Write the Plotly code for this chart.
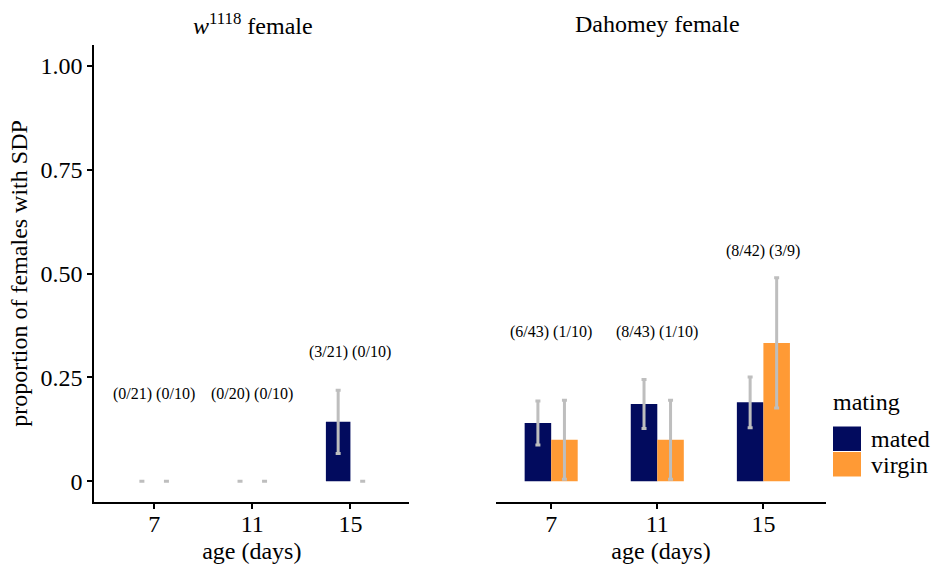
import plotly.graph_objects as go

# ---------------- data ----------------
ages = ["7", "11", "15"]

w_mated_prop = [0.0, 0.0, 0.143]
w_mated_se = [0.0, 0.0, 0.076]
w_virgin_prop = [0.0, 0.0, 0.0]
w_virgin_se = [0.0, 0.0, 0.0]
w_mated_counts = ["0/21", "0/20", "3/21"]
w_virgin_counts = ["0/10", "0/10", "0/10"]
w_label_y = [0.21, 0.21, 0.31]

d_mated_prop = [0.140, 0.186, 0.190]
d_mated_se = [0.053, 0.059, 0.061]
d_virgin_prop = [0.10, 0.10, 0.333]
d_virgin_se = [0.095, 0.095, 0.157]
d_mated_counts = ["6/43", "8/43", "8/42"]
d_virgin_counts = ["1/10", "1/10", "3/9"]
d_label_y = [0.36, 0.36, 0.555]

panel_titles = ["<i>w</i><sup>1118</sup> female", "Dahomey female"]
y_ticks = [0, 0.25, 0.5, 0.75, 1.0]
y_ticktext = ["0", "0.25", "0.50", "0.75", "1.00"]

# ---------------- style ----------------
W, H = 934, 566
FONT = "Liberation Serif"
NAVY = "#020B5E"
ORANGE = "#FF9A35"
ERR = "#BEBEBE"
FS = 24

def px_x(p):
    return p / W

def px_y(p):
    return (H - p) / H

fig = go.Figure()

def add_panel(mp, mse, vp, vse, xa, ya):
    fig.add_trace(go.Bar(
        x=ages, y=mp, name="mated", marker=dict(color=NAVY, line=dict(width=0)),
        error_y=dict(type="data", array=mse, color=ERR, thickness=3, width=2.5),
        xaxis=xa, yaxis=ya, showlegend=False))
    fig.add_trace(go.Bar(
        x=ages, y=vp, name="virgin", marker=dict(color=ORANGE, line=dict(width=0)),
        error_y=dict(type="data", array=vse, color=ERR, thickness=3, width=2.5),
        xaxis=xa, yaxis=ya, showlegend=False))

add_panel(w_mated_prop, w_mated_se, w_virgin_prop, w_virgin_se, "x", "y")
add_panel(d_mated_prop, d_mated_se, d_virgin_prop, d_virgin_se, "x2", "y2")

annotations = []
for xr, yr, mc, vc, ly in [("x", "y", w_mated_counts, w_virgin_counts, w_label_y),
                           ("x2", "y2", d_mated_counts, d_virgin_counts, d_label_y)]:
    for i, (m, v, yy) in enumerate(zip(mc, vc, ly)):
        annotations.append(dict(
            x=i, y=yy, xref=xr, yref=yr, text=f"({m}) ({v})", showarrow=False,
            font=dict(family=FONT, size=16, color="black"),
            xanchor="center", yanchor="middle"))

# panel titles
annotations.append(dict(x=px_x(253), y=px_y(24), xref="paper", yref="paper",
                        text=panel_titles[0], showarrow=False,
                        font=dict(family=FONT, size=FS, color="black"),
                        xanchor="center", yanchor="middle"))
annotations.append(dict(x=px_x(657), y=px_y(24), xref="paper", yref="paper",
                        text=panel_titles[1], showarrow=False,
                        font=dict(family=FONT, size=FS, color="black"),
                        xanchor="center", yanchor="middle"))

# manual legend
annotations.append(dict(x=px_x(831), y=px_y(402), xref="paper", yref="paper",
                        text="mating", showarrow=False,
                        font=dict(family=FONT, size=FS, color="black"),
                        xanchor="left", yanchor="middle"))
annotations.append(dict(x=px_x(869), y=px_y(439), xref="paper", yref="paper",
                        text="mated", showarrow=False,
                        font=dict(family=FONT, size=FS, color="black"),
                        xanchor="left", yanchor="middle"))
annotations.append(dict(x=px_x(869), y=px_y(465), xref="paper", yref="paper",
                        text="virgin", showarrow=False,
                        font=dict(family=FONT, size=FS, color="black"),
                        xanchor="left", yanchor="middle"))

shapes = [
    dict(type="rect", xref="paper", yref="paper",
         x0=px_x(833), x1=px_x(861), y0=px_y(451), y1=px_y(426.5),
         fillcolor=NAVY, line=dict(width=0)),
    dict(type="rect", xref="paper", yref="paper",
         x0=px_x(833), x1=px_x(861), y0=px_y(476.5), y1=px_y(452),
         fillcolor=ORANGE, line=dict(width=0)),
]

ydom = [px_y(502), px_y(45)]
tickfont = dict(family=FONT, size=FS, color="black")
titlefont = dict(family=FONT, size=FS, color="black")

xcommon = dict(type="category", showline=True, linecolor="black", linewidth=2,
               ticks="outside", ticklen=5, tickwidth=2, tickcolor="black",
               tickfont=tickfont, ticklabelstandoff=-6,
               showgrid=False, zeroline=False, automargin=False,
               title=dict(text="age (days)", font=titlefont, standoff=6))

fig.update_layout(
    width=W, height=H, autosize=False,
    margin=dict(l=0, r=0, t=0, b=0, pad=0),
    paper_bgcolor="white", plot_bgcolor="white",
    barmode="group", bargap=0.5, bargroupgap=0,
    font=dict(family=FONT, color="black"),
    xaxis=dict(domain=[px_x(94.3), px_x(409.3)], range=[-0.61, 2.6], anchor="y", **xcommon),
    xaxis2=dict(domain=[px_x(496), px_x(826)], range=[-0.52, 2.59], anchor="y2", **xcommon),
    yaxis=dict(domain=ydom, range=[-0.05, 1.05], anchor="x", automargin=False,
               showline=True, linecolor="black", linewidth=2,
               ticks="outside", ticklen=5, tickwidth=2, tickcolor="black",
               tickvals=y_ticks, ticktext=y_ticktext, tickfont=tickfont,
               showgrid=False, zeroline=False,
               title=dict(text="proportion of females with SDP", font=titlefont, standoff=6)),
    yaxis2=dict(domain=ydom, range=[-0.05, 1.05], anchor="x2", automargin=False,
                showline=False, showticklabels=False, ticks="",
                showgrid=False, zeroline=False),
    annotations=annotations,
    shapes=shapes,
    showlegend=False,
)

fig.write_html("out.html", config={"displayModeBar": False},
               post_script="document.body.style.margin='0px';")
